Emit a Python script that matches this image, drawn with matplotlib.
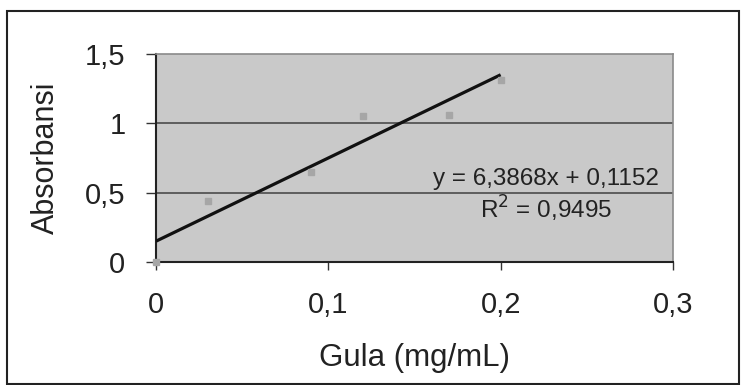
import matplotlib
matplotlib.use("Agg")
import numpy as np
import matplotlib.pyplot as plt
from matplotlib.patches import Rectangle
from matplotlib.ticker import FuncFormatter

# data
gula = [0, 0.03, 0.09, 0.12, 0.17, 0.2]
absorbansi = [0, 0.44, 0.65, 1.05, 1.06, 1.31]
# printed trendline label
slope = 6.3868
intercept = 0.1152
r2 = 0.9495
# trendline as it is drawn in the scan
line_slope = 6.0
line_intercept = 0.15

plt.rcParams["font.family"] = ["Liberation Sans", "DejaVu Sans"]

fig = plt.figure(figsize=(7.46, 3.85), dpi=100)
ax = fig.add_axes([0.2091, 0.3195, 0.693, 0.5403])

ax.set_facecolor("#c9c9c9")

# grid
for yv in [0.5, 1.0]:
    ax.axhline(yv, color="#555555", lw=1.3, zorder=1)

ax.plot(gula, absorbansi, ls="none", marker="s", ms=4.5,
        color="#a6a6a6", mec="#a6a6a6", zorder=4, clip_on=False)

x_line = np.array([min(gula), max(gula)])
ax.plot(x_line, line_slope * x_line + line_intercept, color="#111111",
        lw=2.3, zorder=3, solid_capstyle="butt")

def comma(v, pos):
    return f"{v:g}".replace(".", ",")

ax.set_xlim(0, 0.3)
ax.set_ylim(0, 1.5)
ax.set_xticks([0, 0.1, 0.2, 0.3])
ax.set_yticks([0, 0.5, 1.0, 1.5])
ax.xaxis.set_major_formatter(FuncFormatter(comma))
ax.yaxis.set_major_formatter(FuncFormatter(comma))
ax.tick_params(axis="x", direction="out", length=6, width=1, color="#333333",
               labelsize=21, pad=15, colors="#222222")
ax.tick_params(axis="y", direction="out", length=7, width=1, color="#333333",
               labelsize=21, pad=15, colors="#222222")

for s in ["left", "bottom"]:
    ax.spines[s].set_color("#222222")
    ax.spines[s].set_linewidth(1.5)
for s in ["top", "right"]:
    ax.spines[s].set_color("#8a8a8a")
    ax.spines[s].set_linewidth(1.2)

ax.set_xlabel("Gula (mg/mL)", fontsize=22.5, color="#222222", labelpad=17)
ax.set_ylabel("Absorbansi", fontsize=22, color="#222222", labelpad=17)

ax.text(0.2263, 0.60, f"y = {slope:.4f}x + {intercept:.4f}".replace(".", ","),
        ha="center", va="center", fontsize=17.5, color="#222222", zorder=5)
ax.text(0.2263, 0.38, f"R$^2$ = {r2:.4f}".replace(".", ","),
        ha="center", va="center", fontsize=17.5, color="#222222", zorder=5)

# outer chart frame
fig.patches.append(Rectangle((7 / 746, 1 - 384 / 385), 732 / 746, 373 / 385,
                             transform=fig.transFigure, fill=False,
                             edgecolor="#222222", lw=1.5))

fig.savefig("out.png", dpi=100, facecolor="white")
